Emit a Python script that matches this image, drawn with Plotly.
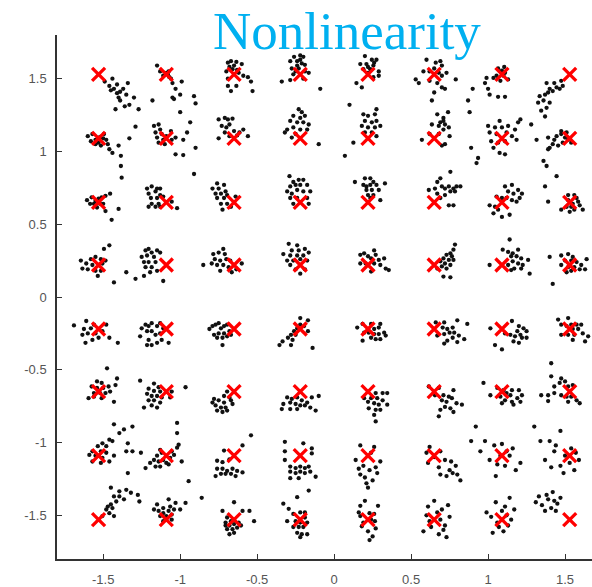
import plotly.graph_objects as go

# 64-QAM ideal levels (in-phase and quadrature)
levels = [-1.53, -1.09, -0.65, -0.22, 0.22, 0.65, 1.09, 1.53]

# Received samples, as (dI, dQ) offsets from each ideal point.
# One list per constellation row (top to bottom), each holding 8 columns (left to right).
row_p153 = [
    [(0.04,-0.05),(0.07,-0.08),(0.09,-0.03),(0.10,-0.10),(0.12,-0.13),(0.13,-0.16),(0.14,-0.18),(0.16,-0.10),(0.19,-0.06),(0.20,-0.21),(0.23,-0.16),(0.26,-0.24),(0.11,-0.24),(0.17,-0.22),(0.12,-0.07),(0.08,-0.11),(0.14,-0.12),(0.18,-0.14)],
    [(-0.06,0.06),(-0.04,0.02),(-0.02,-0.01),(0.015,0.02),(0.03,-0.03),(0.04,-0.06),(0.06,-0.10),(0.09,-0.14),(0.10,-0.05),(0.05,-0.17),(-0.09,-0.18),(0.04,-0.16),(0.18,-0.15),(0.19,-0.20),(0.01,0.0),(0.0,0.01),(0.02,-0.02)],
    [(-0.04,0.08),(-0.02,0.09),(0.015,0.085),(0.05,0.07),(-0.05,0.02),(-0.03,0.05),(-0.01,0.035),(0.03,0.01),(0.06,-0.01),(0.09,-0.02),(0.11,-0.05),(-0.04,-0.08),(-0.02,-0.115),(0.015,-0.08),(0.12,-0.115),(-0.04,-0.03),(0.0,0.06),(0.02,0.03)],
    [(-0.04,0.12),(0.0,0.13),(0.02,0.12),(-0.065,0.09),(-0.02,0.09),(0.01,0.075),(0.03,0.065),(-0.055,0.04),(-0.01,0.04),(0.03,0.02),(0.055,0.01),(-0.045,0.0),(-0.065,-0.04),(0.02,-0.03),(-0.12,-0.05),(0.13,-0.10),(-0.02,0.06),(0.0,0.10),(-0.03,0.02)],
    [(-0.02,0.125),(0.025,0.10),(0.055,0.10),(-0.05,0.07),(-0.01,0.07),(0.035,0.06),(-0.03,0.035),(0.015,0.035),(0.07,0.02),(0.07,-0.01),(-0.075,-0.06),(-0.04,-0.09),(0.035,-0.02),(0.0,0.01),(-0.12,-0.21),(0.0,0.05),(0.04,0.08)],
    [(-0.05,0.10),(0.01,0.08),(0.04,0.09),(0.05,0.06),(-0.07,0.02),(-0.03,0.02),(0.03,0.01),(0.05,-0.01),(-0.12,-0.035),(-0.10,-0.06),(-0.03,-0.045),(0.02,-0.06),(0.05,-0.09),(0.07,-0.10),(0.0,-0.125),(-0.015,-0.18),(0.08,0.01),(0.14,-0.035),(0.0,0.04)],
    [(-0.025,0.04),(0.0,0.025),(0.02,0.01),(-0.035,-0.01),(-0.055,-0.025),(-0.10,-0.025),(-0.11,-0.06),(-0.09,-0.10),(-0.08,-0.14),(0.01,-0.01),(0.04,-0.035),(-0.01,-0.045),(-0.19,-0.10),(-0.025,-0.155),(0.02,-0.155),(-0.22,-0.18),(0.015,0.05)],
    [(-0.045,-0.08),(-0.065,-0.10),(-0.085,-0.09),(-0.11,-0.115),(-0.13,-0.10),(-0.14,-0.125),(-0.16,-0.14),(-0.195,-0.15),(-0.17,-0.18),(-0.205,-0.195),(-0.15,-0.23),(-0.185,-0.25),(-0.13,-0.195),(-0.10,-0.06),(-0.15,-0.06),(-0.055,-0.045),(-0.16,-0.29)],
]
row_p109 = [
    [(-0.07,0.015),(-0.04,0.03),(-0.02,-0.01),(0.0,-0.03),(0.03,0.0),(0.05,-0.01),(0.06,-0.04),(0.015,-0.05),(0.07,-0.075),(0.09,-0.10),(0.13,-0.05),(0.145,-0.12),(-0.02,-0.04),(0.035,0.03),(0.145,-0.19),(0.20,0.0),(0.24,0.08),(-0.05,-0.02),(0.01,0.01)],
    [(-0.08,0.085),(-0.05,0.095),(-0.04,0.06),(-0.07,0.04),(-0.03,0.03),(-0.06,0.005),(-0.02,-0.01),(0.0,0.015),(0.03,0.05),(0.035,-0.01),(-0.05,-0.03),(-0.01,-0.04),(0.06,0.005),(0.11,-0.01),(0.135,0.04),(0.19,-0.065),(0.06,-0.11),(0.11,-0.115),(0.155,0.11),(0.09,0.18)],
    [(-0.10,0.13),(-0.06,0.14),(-0.04,0.13),(-0.01,0.135),(-0.08,0.085),(-0.05,0.075),(-0.03,0.095),(0.0,0.05),(0.035,0.04),(0.06,0.06),(-0.03,0.015),(-0.10,0.0),(0.09,0.015),(-0.06,0.04),(0.02,0.02)],
    [(-0.01,0.20),(0.01,0.18),(-0.045,0.155),(0.0,0.14),(0.03,0.155),(-0.065,0.12),(-0.02,0.11),(0.02,0.11),(0.055,0.095),(-0.085,0.06),(-0.045,0.075),(0.0,0.06),(0.045,0.06),(-0.055,0.005),(-0.10,0.04),(0.12,-0.04),(-0.03,0.03)],
    [(0.055,0.20),(-0.03,0.165),(0.0,0.155),(0.045,0.165),(-0.02,0.12),(0.025,0.11),(0.055,0.12),(-0.04,0.085),(0.0,0.075),(0.045,0.075),(0.08,0.085),(-0.02,0.04),(0.025,0.04),(0.055,0.015),(-0.095,-0.03),(-0.15,-0.12)],
    [(0.02,0.165),(0.06,0.14),(0.09,0.18),(0.04,0.11),(0.07,0.095),(0.095,0.075),(0.06,0.06),(0.10,0.015),(0.07,-0.04),(0.03,0.03),(-0.015,0.095),(-0.08,-0.01),(-0.03,0.03),(0.05,-0.05),(0.03,0.085),(0.06,0.12)],
    [(-0.015,0.12),(-0.09,0.085),(-0.045,0.075),(0.0,0.075),(0.04,0.085),(0.085,0.06),(0.105,0.11),(0.12,0.13),(-0.08,0.04),(-0.035,0.03),(0.03,0.04),(0.065,0.015),(0.095,-0.01),(-0.07,-0.02),(-0.025,-0.03),(0.02,-0.02),(-0.055,-0.065),(-0.015,-0.10),(0.02,-0.11),(-0.20,-0.065),(-0.155,-0.135),(-0.165,-0.17),(0.19,0.095),(0.225,-0.01),(-0.21,0.18)],
    [(-0.085,0.015),(-0.055,0.03),(-0.03,0.005),(-0.01,-0.01),(-0.045,-0.03),(-0.075,-0.05),(-0.11,-0.04),(-0.13,-0.065),(-0.10,-0.01),(-0.055,0.05),(-0.02,0.04),(-0.14,0.005),(-0.14,-0.075),(0.01,-0.03),(-0.17,-0.155),(-0.15,-0.19)],
]
row_p065 = [
    [(-0.075,0.015),(-0.045,0.035),(-0.02,0.01),(-0.03,-0.01),(0.0,0.025),(0.02,0.035),(0.045,0.045),(0.075,0.06),(0.01,-0.01),(-0.01,-0.035),(0.03,-0.01),(-0.055,-0.01),(0.13,-0.045),(0.085,-0.12),(0.15,0.17),(0.045,-0.06)],
    [(-0.125,0.095),(-0.095,0.11),(-0.06,0.095),(-0.04,0.095),(-0.115,0.06),(-0.07,0.075),(-0.04,0.05),(-0.10,0.03),(-0.06,0.03),(-0.02,0.04),(-0.095,-0.01),(-0.05,-0.01),(-0.07,-0.03),(-0.04,-0.03),(0.035,0.005),(0.07,-0.04),(-0.115,-0.03),(0.18,0.195)],
    [(-0.11,0.13),(-0.14,0.095),(-0.10,0.095),(-0.065,0.12),(-0.12,0.06),(-0.085,0.06),(-0.055,0.075),(-0.11,0.03),(-0.065,0.03),(-0.045,0.05),(-0.085,-0.01),(-0.045,-0.01),(-0.075,-0.05),(-0.02,-0.03),(0.01,0.04)],
    [(-0.07,0.18),(-0.045,0.14),(-0.01,0.155),(0.02,0.155),(-0.065,0.11),(-0.03,0.12),(0.0,0.12),(0.045,0.12),(-0.085,0.075),(-0.055,0.06),(-0.02,0.085),(0.02,0.075),(0.065,0.075),(-0.065,0.03),(-0.02,0.03),(0.045,0.03),(-0.045,-0.01),(0.055,-0.01)],
    [(-0.085,0.14),(-0.02,0.165),(0.015,0.165),(0.035,0.14),(0.11,0.13),(-0.03,0.12),(0.015,0.12),(0.055,0.12),(-0.01,0.085),(0.025,0.085),(0.07,0.085),(0.0,0.05),(0.035,0.05),(0.08,0.015),(0.015,0.03),(-0.01,0.11)],
    [(0.02,0.14),(0.04,0.165),(0.105,0.21),(-0.035,0.085),(0.005,0.095),(0.05,0.11),(0.07,0.095),(0.095,0.11),(0.125,0.095),(0.145,0.11),(0.17,0.11),(0.105,0.075),(0.135,0.075),(0.07,0.05),(0.02,0.06),(0.04,0.03),(0.095,-0.02),(0.125,-0.02)],
    [(0.02,0.11),(0.065,0.12),(0.105,0.085),(0.13,0.06),(0.04,0.075),(0.075,0.06),(0.115,0.03),(0.03,0.03),(0.065,0.015),(0.095,0.005),(0.0,0.03),(-0.035,0.04),(-0.08,-0.02),(-0.045,-0.03),(-0.055,-0.075),(0.0,-0.10),(0.05,-0.085),(-0.025,-0.05)],
    [(-0.01,0.05),(0.03,0.05),(0.045,0.03),(0.055,0.005),(0.065,-0.02),(0.01,-0.03),(-0.02,-0.03),(-0.055,-0.05),(0.03,-0.05),(0.085,-0.05),(0.0,-0.065),(-0.14,0.005),(-0.16,0.11),(-0.085,0.18),(-0.01,0.015),(0.02,-0.01)],
]
row_p022 = [
    [(-0.115,0.03),(-0.08,0.01),(-0.05,0.04),(-0.04,0.0),(-0.07,-0.03),(-0.02,0.055),(0.015,0.04),(0.025,0.01),(0.045,0.03),(-0.02,-0.04),(0.015,-0.04),(-0.005,-0.075),(-0.105,-0.025),(0.07,0.135),(0.035,0.11),(0.10,-0.12),(0.18,-0.05)],
    [(-0.135,0.10),(-0.115,0.11),(-0.095,0.085),(-0.16,0.055),(-0.125,0.065),(-0.08,0.055),(-0.145,0.02),(-0.115,0.02),(-0.07,0.02),(-0.135,-0.015),(-0.095,-0.015),(-0.06,0.10),(-0.04,0.085),(-0.105,-0.05),(-0.06,-0.04),(-0.02,-0.11),(-0.145,-0.075),(-0.20,-0.095)],
    [(-0.135,0.075),(-0.10,0.085),(-0.07,0.11),(-0.06,0.075),(-0.125,0.04),(-0.09,0.03),(-0.05,0.04),(-0.145,0.01),(-0.11,0.0),(-0.07,0.0),(-0.025,0.03),(-0.035,-0.015),(-0.09,-0.04),(-0.015,-0.05),(0.015,-0.03),(0.05,0.01),(-0.20,0.0)],
    [(-0.075,0.145),(-0.02,0.135),(-0.055,0.10),(-0.01,0.10),(0.03,0.11),(-0.11,0.075),(-0.065,0.065),(-0.02,0.065),(0.02,0.065),(0.055,0.085),(-0.085,0.03),(-0.045,0.03),(0.0,0.04),(0.045,0.03),(-0.065,0.0),(-0.03,-0.03),(0.03,-0.03),(0.0,-0.06)],
    [(-0.05,0.07),(-0.025,0.08),(0.04,0.10),(0.05,0.07),(0.0,0.06),(0.02,0.045),(0.07,0.035),(0.105,0.045),(-0.05,0.01),(-0.015,0.01),(0.04,0.01),(0.08,0.0),(0.115,-0.025),(0.135,-0.035),(0.02,-0.045)],
    [(0.135,0.14),(0.125,0.105),(0.105,0.08),(0.08,0.07),(0.115,0.06),(0.06,0.045),(0.095,0.035),(0.125,0.035),(0.04,0.025),(0.07,0.01),(0.105,0.0),(0.05,-0.01),(0.08,-0.025),(0.02,-0.025),(0.06,-0.08),(0.105,-0.085)],
    [(0.05,0.175),(0.005,0.105),(0.04,0.09),(0.07,0.08),(0.105,0.105),(0.06,0.06),(0.095,0.06),(0.125,0.045),(0.07,0.025),(0.105,0.01),(0.135,0.0),(0.04,0.0),(0.08,-0.025),(0.125,-0.025),(0.06,-0.035),(0.18,-0.06),(-0.08,0.0),(0.17,0.035)],
    [(-0.055,0.065),(-0.01,0.075),(0.02,0.055),(-0.03,0.03),(0.01,0.03),(0.045,0.02),(0.075,0.0),(0.11,0.04),(-0.055,0.0),(-0.01,-0.015),(0.03,-0.015),(0.065,-0.03),(-0.02,-0.05),(0.01,-0.04),(-0.13,0.055),(-0.11,-0.13),(0.10,-0.03)],
]
row_m022 = [
    [(-0.16,0.025),(-0.08,0.055),(-0.095,0.0),(-0.07,-0.03),(-0.05,0.005),(-0.03,0.03),(-0.02,-0.03),(0.0,-0.06),(0.025,-0.015),(0.05,0.03),(0.07,-0.06),(-0.085,-0.095),(-0.04,-0.075),(0.125,-0.095),(-0.105,-0.04)],
    [(-0.16,0.005),(-0.135,0.03),(-0.115,0.02),(-0.095,0.04),(-0.125,-0.015),(-0.095,-0.015),(-0.06,0.02),(-0.04,0.04),(-0.02,0.005),(-0.04,-0.03),(-0.07,-0.04),(-0.17,-0.05),(-0.115,-0.075),(-0.095,-0.11),(-0.06,-0.095),(0.015,-0.095),(-0.03,-0.075),(-0.125,-0.11)],
    [(-0.16,0.0),(-0.14,0.02),(-0.12,0.03),(-0.10,0.04),(-0.085,0.005),(-0.065,0.02),(-0.045,0.03),(-0.13,-0.04),(-0.10,-0.03),(-0.065,-0.03),(-0.03,-0.015),(-0.11,-0.06),(-0.075,-0.06),(-0.045,-0.05),(-0.02,-0.04),(-0.075,-0.11)],
    [(0.0,0.075),(0.05,0.06),(0.0,0.03),(0.025,0.02),(-0.02,0.005),(-0.04,-0.015),(-0.06,-0.04),(-0.03,-0.04),(-0.08,-0.06),(-0.05,-0.075),(-0.115,-0.085),(-0.135,-0.11),(-0.06,-0.11),(0.05,-0.015),(0.08,-0.13)],
    [(-0.07,0.01),(-0.035,0.035),(0.02,0.035),(0.04,0.0),(0.07,0.01),(0.08,0.035),(0.005,-0.025),(0.04,-0.035),(0.07,-0.035),(0.105,-0.025),(0.115,-0.045),(0.02,-0.06),(0.05,-0.07),(0.08,-0.07),(-0.035,-0.08),(-0.025,-0.025)],
    [(0.01,0.045),(0.065,0.045),(0.15,0.06),(0.215,0.035),(0.055,0.01),(0.085,0.0),(0.12,0.01),(0.10,-0.025),(0.13,-0.025),(0.065,-0.035),(0.16,-0.045),(0.12,-0.06),(0.195,-0.07),(0.085,-0.08),(0.15,-0.09),(0.065,-0.10),(0.02,-0.045)],
    [(-0.075,0.005),(0.065,0.055),(0.11,0.02),(0.14,0.005),(0.16,-0.015),(0.10,-0.015),(0.12,-0.04),(0.085,-0.05),(0.13,-0.06),(0.075,-0.085),(0.11,-0.095),(0.16,-0.06),(0.055,-0.04),(-0.045,-0.11),(0.0,-0.14),(0.02,-0.03)],
    [(-0.075,0.065),(-0.01,0.075),(-0.055,0.03),(-0.02,0.02),(0.01,0.03),(0.045,0.03),(0.075,0.03),(0.02,0.0),(0.055,0.0),(-0.055,-0.04),(-0.01,-0.04),(0.03,-0.04),(0.085,-0.03),(0.12,-0.05),(0.10,-0.085),(0.02,-0.075)],
]
row_m065 = [
    [(0.055,0.16),(0.12,0.09),(-0.01,0.07),(0.02,0.06),(-0.045,0.035),(-0.01,0.025),(0.03,0.025),(0.065,0.035),(0.11,0.045),(-0.03,-0.01),(0.01,-0.01),(0.045,-0.01),(0.075,0.0),(-0.065,-0.045),(-0.03,-0.035),(0.10,-0.07),(0.02,-0.045)],
    [(-0.17,0.075),(-0.08,0.055),(-0.115,0.02),(-0.08,0.005),(-0.05,0.03),(-0.04,0.0),(-0.125,-0.015),(-0.095,-0.03),(-0.06,-0.03),(-0.03,-0.04),(-0.115,-0.06),(-0.08,-0.06),(-0.04,-0.075),(-0.095,-0.095),(-0.06,-0.11),(-0.145,-0.11),(0.035,0.0),(0.125,0.03),(0.025,-0.04)],
    [(-0.045,0.0),(-0.065,-0.03),(-0.03,-0.04),(-0.13,-0.05),(-0.10,-0.06),(-0.065,-0.075),(-0.12,-0.095),(-0.085,-0.11),(-0.055,-0.11),(-0.11,-0.13),(-0.075,-0.14),(-0.045,-0.13),(-0.01,-0.085),(-0.14,-0.075),(-0.02,-0.06)],
    [(-0.085,-0.04),(-0.055,-0.05),(-0.02,-0.04),(0.01,-0.06),(0.045,-0.075),(0.075,-0.04),(-0.11,-0.085),(-0.065,-0.075),(-0.03,-0.085),(0.0,-0.095),(0.03,-0.095),(0.065,-0.11),(-0.12,-0.12),(-0.065,-0.12),(-0.02,-0.12),(0.10,-0.13),(0.12,-0.03)],
    [(0.05,-0.01),(0.095,-0.01),(0.125,-0.01),(0.02,-0.045),(0.06,-0.045),(0.095,-0.06),(0.0,-0.07),(0.04,-0.08),(0.07,-0.09),(0.125,-0.09),(0.005,-0.115),(0.05,-0.125),(0.08,-0.125),(0.04,-0.16),(0.05,-0.205),(-0.025,-0.045)],
    [(-0.035,0.035),(0.03,0.025),(0.06,-0.025),(0.095,-0.035),(0.125,0.01),(0.05,-0.06),(0.08,-0.07),(0.115,-0.045),(0.145,-0.08),(0.07,-0.105),(0.105,-0.115),(0.125,-0.14),(0.18,-0.09),(0.04,-0.125),(0.03,-0.17),(0.005,-0.025)],
    [(-0.12,0.06),(-0.075,-0.025),(-0.03,0.025),(0.01,0.01),(0.03,-0.01),(0.065,0.01),(0.11,0.01),(0.13,-0.025),(0.055,-0.025),(0.10,-0.045),(-0.01,-0.035),(0.02,-0.06),(0.065,-0.07),(0.12,-0.07),(0.075,-0.09),(0.0,-0.08)],
    [(-0.12,0.195),(-0.12,0.105),(-0.055,0.09),(-0.03,0.07),(-0.065,0.06),(-0.10,0.035),(-0.01,0.035),(0.02,0.045),(-0.185,-0.025),(-0.14,-0.025),(-0.10,-0.01),(-0.055,-0.025),(-0.02,-0.035),(0.01,-0.035),(0.045,-0.06),(0.065,-0.08),(-0.14,-0.065),(-0.01,-0.07)],
]
row_m109 = [
    [(0.10,0.215),(0.135,0.155),(0.165,0.18),(0.22,0.20),(0.07,0.11),(0.09,0.10),(0.025,0.085),(-0.005,0.065),(-0.04,0.03),(0.015,0.03),(0.05,0.02),(-0.02,0.0),(0.025,-0.015),(-0.04,-0.04),(0.015,-0.05),(0.07,-0.04),(0.10,0.0),(0.19,0.085),(0.18,0.03),(0.22,0.03),(0.275,0.02),(0.19,-0.12),(0.05,0.065),(-0.06,0.005)],
    [(0.07,0.225),(0.07,0.155),(0.08,0.075),(0.07,0.055),(0.035,0.03),(-0.04,0.04),(-0.03,0.02),(-0.06,0.0),(-0.08,-0.03),(-0.05,-0.04),(-0.02,-0.03),(0.025,-0.015),(-0.105,-0.05),(-0.07,-0.075),(-0.04,-0.075),(-0.135,-0.085),(0.015,-0.06),(0.10,-0.04),(0.05,0.005),(0.0,-0.05)],
    [(0.11,0.14),(0.055,0.07),(-0.065,0.035),(-0.03,-0.025),(-0.11,-0.035),(-0.075,-0.045),(-0.11,-0.09),(-0.075,-0.09),(-0.045,-0.105),(-0.01,-0.09),(0.02,-0.105),(-0.085,-0.125),(-0.055,-0.125),(-0.02,-0.125),(0.01,-0.14),(-0.12,-0.14),(0.055,-0.115)],
    [(-0.10,0.095),(0.02,0.085),(0.075,0.05),(0.075,0.015),(-0.10,0.03),(-0.10,-0.03),(-0.065,-0.075),(-0.03,-0.085),(0.0,-0.075),(0.03,-0.085),(0.055,-0.075),(-0.065,-0.11),(-0.03,-0.12),(0.0,-0.11),(0.03,-0.12),(0.065,-0.11),(-0.065,-0.155),(0.10,-0.145),(-0.01,-0.155)],
    [(-0.05,0.07),(0.04,0.06),(-0.03,-0.07),(0.01,-0.10),(-0.05,-0.13),(0.03,-0.17),(0.0,-0.22),(0.08,-0.04),(-0.08,-0.03),(0.06,-0.12),(-0.02,-0.15),(0.02,0.02),(-0.01,-0.19),(0.05,-0.08),(-0.06,-0.09)],
    [(-0.03,0.06),(0.04,0.03),(0.07,-0.03),(0.10,-0.10),(0.14,-0.07),(0.04,-0.13),(0.17,-0.17),(0.0,-0.01),(-0.05,0.02),(0.08,-0.14),(0.11,-0.04),(0.12,-0.12),(0.03,-0.08),(0.15,-0.13),(-0.04,-0.05)],
    [(-0.11,0.10),(-0.05,0.07),(-0.01,0.0),(0.05,0.0),(-0.08,-0.03),(0.02,-0.07),(0.09,-0.10),(-0.14,0.03),(-0.20,0.10),(-0.04,-0.14),(0.07,0.05),(0.03,0.03),(-0.03,-0.06),(0.12,-0.05),(0.0,0.08),(-0.17,0.20)],
    [(-0.13,0.10),(-0.10,0.03),(-0.03,0.0),(-0.06,-0.07),(0.0,-0.05),(-0.16,-0.03),(0.03,-0.10),(-0.06,0.17),(-0.23,0.20),(-0.09,0.07),(0.04,0.02),(-0.04,-0.12),(-0.12,-0.08),(0.01,0.05),(-0.19,0.10),(0.06,-0.03)],
]
row_m153 = [
    [(0.08,0.22),(0.135,0.195),(0.18,0.205),(0.10,0.16),(0.135,0.16),(0.165,0.14),(0.115,0.125),(0.08,0.105),(0.06,0.09),(0.09,0.08),(0.07,0.045),(0.10,0.025),(0.025,0.025),(0.21,0.185),(0.255,0.17),(0.265,0.125),(0.05,0.07)],
    [(0.015,0.14),(-0.06,0.105),(-0.02,0.08),(0.025,0.09),(0.06,0.115),(0.125,0.115),(-0.05,0.06),(-0.02,0.045),(0.015,0.06),(0.05,0.07),(-0.04,0.025),(0.0,0.025),(0.035,0.035),(-0.08,0.07),(-0.02,-0.01),(0.09,0.07),(0.035,0.0),(0.145,0.265),(0.23,0.15)],
    [(0.0,0.12),(-0.075,0.06),(0.055,0.06),(0.10,0.06),(0.13,-0.01),(-0.045,0.015),(-0.02,-0.01),(-0.055,-0.02),(-0.03,-0.04),(0.0,-0.03),(0.03,-0.02),(-0.045,-0.065),(-0.01,-0.065),(0.02,-0.055),(0.045,-0.04),(-0.03,-0.10),(0.0,-0.09),(-0.055,-0.04)],
    [(0.055,0.20),(-0.02,0.155),(-0.11,0.11),(-0.075,0.075),(-0.045,0.04),(0.0,0.05),(0.03,0.05),(0.03,0.015),(-0.03,-0.01),(0.0,-0.02),(0.045,-0.02),(-0.045,-0.05),(-0.01,-0.05),(0.02,-0.05),(-0.02,-0.09),(0.01,-0.10),(0.045,-0.10),(0.0,-0.12),(-0.085,-0.01)],
    [(-0.05,0.025),(0.01,0.045),(0.045,-0.01),(-0.04,-0.045),(0.0,-0.08),(0.03,-0.115),(-0.05,0.095),(0.065,0.095),(-0.02,0.13),(0.02,0.0),(-0.03,-0.02),(0.05,-0.06),(-0.06,0.05),(0.04,0.04),(0.01,-0.14)],
    [(-0.05,0.03),(0.04,0.0),(0.07,-0.04),(-0.02,-0.05),(0.03,-0.10),(0.08,-0.12),(-0.04,0.09),(0.05,0.07),(0.0,0.13),(-0.07,-0.08),(0.10,0.02),(0.02,0.05),(0.06,-0.07),(-0.03,-0.01),(0.09,0.10)],
    [(-0.04,0.12),(0.0,0.06),(0.03,0.03),(0.06,0.0),(-0.07,0.02),(-0.02,-0.05),(0.04,-0.04),(-0.06,-0.09),(0.02,0.09),(-0.03,-0.02),(0.08,0.07),(-0.10,0.05),(0.01,-0.08),(0.05,0.15)],
    [(-0.15,0.17),(-0.10,0.13),(-0.18,0.10),(-0.12,0.08),(-0.08,0.11),(-0.14,0.14),(-0.20,0.16),(-0.11,0.19),(-0.06,0.15),(-0.16,0.06),(-0.22,0.12),(-0.09,0.06)],
]

rows = [row_p153, row_p109, row_p065, row_p022, row_m022, row_m065, row_m109, row_m153]
row_levels = levels[::-1]

tick_vals = [-1.5, -1, -0.5, 0, 0.5, 1, 1.5]
tick_text = ["-1.5", "-1", "-0.5", "0", "0.5", "1", "1.5"]

# Assemble received samples
rx_i, rx_q = [], []
for q_level, row in zip(row_levels, rows):
    for i_level, cluster in zip(levels, row):
        for di, dq in cluster:
            rx_i.append(i_level + di)
            rx_q.append(q_level + dq)

# Ideal constellation grid
ideal_i = [i for q in row_levels for i in levels]
ideal_q = [q for q in row_levels for i in levels]

fig = go.Figure()
fig.add_trace(go.Scatter(
    x=rx_i, y=rx_q, mode="markers",
    marker=dict(color="#111111", size=4.3, symbol="circle", line=dict(width=0)),
    hoverinfo="skip", showlegend=False,
))
fig.add_trace(go.Scatter(
    x=ideal_i, y=ideal_q, mode="markers",
    marker=dict(symbol="x-thin", size=13, line=dict(color="#ff0000", width=3.3)),
    hoverinfo="skip", showlegend=False,
))

axis_font = dict(family="Liberation Sans, Arial, sans-serif", size=13, color="#555555")
common_axis = dict(
    showline=True, linecolor="#333333", linewidth=1.5,
    ticks="inside", ticklen=5, tickwidth=1, tickcolor="#333333",
    tickvals=tick_vals, ticktext=tick_text, tickfont=axis_font,
    showgrid=False, zeroline=False, mirror=False,
)
fig.update_xaxes(range=[-1.8, 1.675], ticklabelstandoff=8, **common_axis)
fig.update_yaxes(range=[-1.8, 1.8], ticklabelstandoff=6, **common_axis)

# Title, anchored to the top edge of the page
fig.add_annotation(
    text="Nonlinearity", xref="paper", yref="paper",
    x=0.542, y=1.0668, xanchor="center", yanchor="top", showarrow=False,
    font=dict(family="Liberation Serif, Times New Roman, serif", size=53, color="#00b0f0"),
)

fig.update_layout(
    width=592, height=587,
    margin=dict(l=57, r=0, t=35, b=28),
    paper_bgcolor="white", plot_bgcolor="white",
)

fig.write_html("out.html")
